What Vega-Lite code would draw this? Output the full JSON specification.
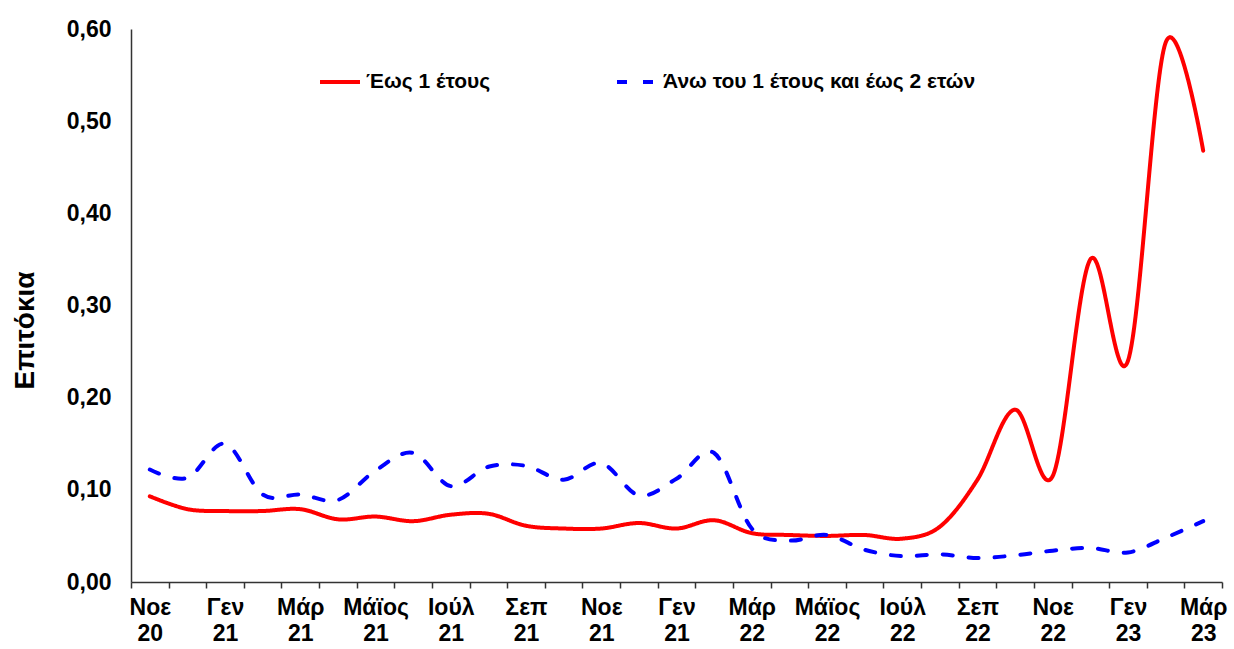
{
  "$schema": "https://vega.github.io/schema/vega-lite/v6.json",
  "width": 1091,
  "height": 553,
  "autosize": "none",
  "padding": {"left": 131, "top": 29, "right": 12, "bottom": 67},
  "background": "white",
  "config": {
    "font": "Liberation Sans",
    "view": {"stroke": null}
  },
  "data": {
    "values": [
      {"i": 0, "series": "Έως 1 έτους", "v": 0.093},
      {"i": 1, "series": "Έως 1 έτους", "v": 0.079},
      {"i": 2, "series": "Έως 1 έτους", "v": 0.077},
      {"i": 3, "series": "Έως 1 έτους", "v": 0.077},
      {"i": 4, "series": "Έως 1 έτους", "v": 0.079},
      {"i": 5, "series": "Έως 1 έτους", "v": 0.068},
      {"i": 6, "series": "Έως 1 έτους", "v": 0.071},
      {"i": 7, "series": "Έως 1 έτους", "v": 0.066},
      {"i": 8, "series": "Έως 1 έτους", "v": 0.073},
      {"i": 9, "series": "Έως 1 έτους", "v": 0.074},
      {"i": 10, "series": "Έως 1 έτους", "v": 0.061},
      {"i": 11, "series": "Έως 1 έτους", "v": 0.058},
      {"i": 12, "series": "Έως 1 έτους", "v": 0.058},
      {"i": 13, "series": "Έως 1 έτους", "v": 0.064},
      {"i": 14, "series": "Έως 1 έτους", "v": 0.058},
      {"i": 15, "series": "Έως 1 έτους", "v": 0.067},
      {"i": 16, "series": "Έως 1 έτους", "v": 0.053},
      {"i": 17, "series": "Έως 1 έτους", "v": 0.051},
      {"i": 18, "series": "Έως 1 έτους", "v": 0.050},
      {"i": 19, "series": "Έως 1 έτους", "v": 0.051},
      {"i": 20, "series": "Έως 1 έτους", "v": 0.047},
      {"i": 21, "series": "Έως 1 έτους", "v": 0.060},
      {"i": 22, "series": "Έως 1 έτους", "v": 0.111},
      {"i": 23, "series": "Έως 1 έτους", "v": 0.187},
      {"i": 24, "series": "Έως 1 έτους", "v": 0.115},
      {"i": 25, "series": "Έως 1 έτους", "v": 0.350},
      {"i": 26, "series": "Έως 1 έτους", "v": 0.240},
      {"i": 27, "series": "Έως 1 έτους", "v": 0.585},
      {"i": 28, "series": "Έως 1 έτους", "v": 0.468},
      {"i": 0, "series": "Άνω του 1 έτους και έως 2 ετών", "v": 0.122},
      {"i": 1, "series": "Άνω του 1 έτους και έως 2 ετών", "v": 0.113},
      {"i": 2, "series": "Άνω του 1 έτους και έως 2 ετών", "v": 0.150},
      {"i": 3, "series": "Άνω του 1 έτους και έως 2 ετών", "v": 0.095},
      {"i": 4, "series": "Άνω του 1 έτους και έως 2 ετών", "v": 0.095},
      {"i": 5, "series": "Άνω του 1 έτους και έως 2 ετών", "v": 0.089},
      {"i": 6, "series": "Άνω του 1 έτους και έως 2 ετών", "v": 0.121},
      {"i": 7, "series": "Άνω του 1 έτους και έως 2 ετών", "v": 0.140},
      {"i": 8, "series": "Άνω του 1 έτους και έως 2 ετών", "v": 0.104},
      {"i": 9, "series": "Άνω του 1 έτους και έως 2 ετών", "v": 0.125},
      {"i": 10, "series": "Άνω του 1 έτους και έως 2 ετών", "v": 0.126},
      {"i": 11, "series": "Άνω του 1 έτους και έως 2 ετών", "v": 0.111},
      {"i": 12, "series": "Άνω του 1 έτους και έως 2 ετών", "v": 0.129},
      {"i": 13, "series": "Άνω του 1 έτους και έως 2 ετών", "v": 0.094},
      {"i": 14, "series": "Άνω του 1 έτους και έως 2 ετών", "v": 0.112},
      {"i": 15, "series": "Άνω του 1 έτους και έως 2 ετών", "v": 0.140},
      {"i": 16, "series": "Άνω του 1 έτους και έως 2 ετών", "v": 0.058},
      {"i": 17, "series": "Άνω του 1 έτους και έως 2 ετών", "v": 0.045},
      {"i": 18, "series": "Άνω του 1 έτους και έως 2 ετών", "v": 0.051},
      {"i": 19, "series": "Άνω του 1 έτους και έως 2 ετών", "v": 0.035},
      {"i": 20, "series": "Άνω του 1 έτους και έως 2 ετών", "v": 0.028},
      {"i": 21, "series": "Άνω του 1 έτους και έως 2 ετών", "v": 0.030},
      {"i": 22, "series": "Άνω του 1 έτους και έως 2 ετών", "v": 0.026},
      {"i": 23, "series": "Άνω του 1 έτους και έως 2 ετών", "v": 0.029},
      {"i": 24, "series": "Άνω του 1 έτους και έως 2 ετών", "v": 0.034},
      {"i": 25, "series": "Άνω του 1 έτους και έως 2 ετών", "v": 0.037},
      {"i": 26, "series": "Άνω του 1 έτους και έως 2 ετών", "v": 0.032},
      {"i": 27, "series": "Άνω του 1 έτους και έως 2 ετών", "v": 0.048},
      {"i": 28, "series": "Άνω του 1 έτους και έως 2 ετών", "v": 0.066}
    ]
  },
  "mark": {"type": "line", "interpolate": "cardinal", "strokeCap": "round", "strokeWidth": 4},
  "encoding": {
    "x": {
      "field": "i",
      "type": "ordinal",
      "scale": {"type": "band", "paddingInner": 0, "paddingOuter": 0},
      "axis": {
        "title": null,
        "tickBand": "extent",
        "labelAngle": 0,
        "labelFontSize": 23,
        "labelFontWeight": "bold",
        "labelColor": "#000000",
        "labelBaseline": "top",
        "labelLineHeight": 26,
        "labelPadding": 8,
        "labelOverlap": false,
        "tickSize": 6,
        "tickWidth": 1.5,
        "tickColor": "#333333",
        "domainColor": "#333333",
        "domainWidth": 1.5,
        "labelExpr": "[['Νοε','20'],'',['Γεν','21'],'',['Μάρ','21'],'',['Μάϊος','21'],'',['Ιούλ','21'],'',['Σεπ','21'],'',['Νοε','21'],'',['Γεν','21'],'',['Μάρ','22'],'',['Μάϊος','22'],'',['Ιούλ','22'],'',['Σεπ','22'],'',['Νοε','22'],'',['Γεν','23'],'',['Μάρ','23']][datum.value]"
      }
    },
    "y": {
      "field": "v",
      "type": "quantitative",
      "scale": {"domain": [0, 0.6], "nice": false},
      "axis": {
        "title": "Επιτόκια",
        "titleFontSize": 28,
        "titleFontWeight": "bold",
        "titleColor": "#000000",
        "titleX": -106,
        "titleY": 301,
        "titleAlign": "center",
        "titleBaseline": "middle",
        "values": [0, 0.1, 0.2, 0.3, 0.4, 0.5, 0.6],
        "labelExpr": "replace(format(datum.value, '.2f'), '.', ',')",
        "labelFontSize": 23,
        "labelFontWeight": "bold",
        "labelColor": "#000000",
        "labelPadding": 20,
        "ticks": false,
        "grid": false,
        "domainColor": "#333333",
        "domainWidth": 1.5
      }
    },
    "color": {
      "field": "series",
      "type": "nominal",
      "scale": {
        "domain": ["Έως 1 έτους", "Άνω του 1 έτους και έως 2 ετών"],
        "range": ["#ff0000", "#0000ff"]
      },
      "legend": {
        "title": null,
        "orient": "none",
        "direction": "horizontal",
        "legendX": 187,
        "legendY": 31,
        "symbolType": "stroke",
        "symbolSize": 1600,
        "symbolStrokeWidth": 4,
        "labelFontSize": 21,
        "labelFontWeight": "bold",
        "labelColor": "#000000",
        "labelLimit": 0,
        "labelOffset": 4,
        "columnPadding": 118
      }
    },
    "strokeDash": {
      "field": "series",
      "type": "nominal",
      "scale": {
        "domain": ["Έως 1 έτους", "Άνω του 1 έτους και έως 2 ετών"],
        "range": [[1, 0], [10, 16]]
      },
      "legend": null
    }
  }
}
